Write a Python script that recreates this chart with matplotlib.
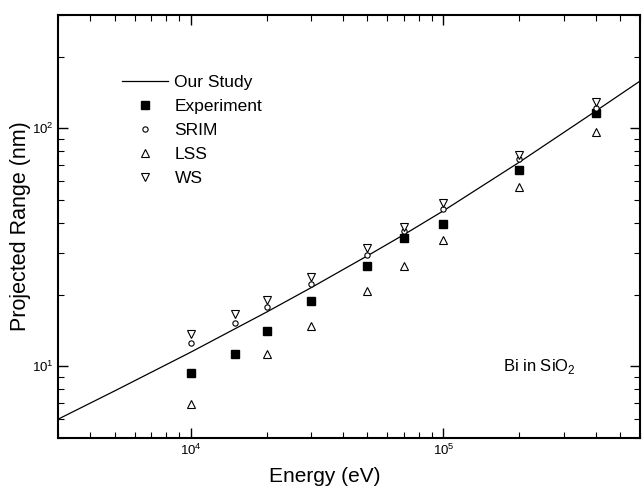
import matplotlib
matplotlib.use("Agg")
import matplotlib.pyplot as plt

plt.rcParams['font.family'] = ['Liberation Sans', 'DejaVu Sans']
plt.rcParams['mathtext.fontset'] = 'custom'
plt.rcParams['mathtext.rm'] = 'Liberation Sans'

# energies (eV)
energy = [10000, 15000, 20000, 30000, 50000, 70000, 100000, 200000, 400000]
energy_lss = [10000, 20000, 30000, 50000, 70000, 100000, 200000, 400000]

# projected range (nm)
experiment = [9.4, 11.3, 14.1, 18.8, 26.3, 34.7, 39.5, 66.7, 115.7]
srim = [12.5, 15.2, 17.7, 22.1, 29.4, 36.9, 45.7, 74.0, 122.2]
lss = [6.93, 11.3, 14.8, 20.7, 26.3, 34.0, 56.8, 96.8]
ws = [13.7, 16.6, 18.9, 23.7, 31.4, 38.5, 48.3, 77.2, 128.8]

# "our study" curve
study_e = [3000, 5000, 10000, 20000, 30000, 50000, 70000, 100000, 200000, 400000, 600000]
study_r = [6.0, 7.87, 11.45, 16.9, 21.4, 29.1, 35.8, 45.0, 72.1, 118, 158]

fig = plt.figure(figsize=(6.42, 4.92), dpi=100)
ax = fig.add_axes([0.091, 0.11, 0.906, 0.86])

ax.plot(study_e, study_r, color='black', lw=0.9, label='Our Study')
ax.plot(energy, experiment, ls='none', marker='s', ms=5.5, mfc='black', mec='black', label='Experiment')
ax.plot(energy, srim, ls='none', marker='o', ms=3.8, mfc='white', mec='black', mew=0.8, label='SRIM')
ax.plot(energy_lss, lss, ls='none', marker='^', ms=6, mfc='white', mec='black', mew=0.8, label='LSS')
ax.plot(energy, ws, ls='none', marker='v', ms=6, mfc='white', mec='black', mew=0.8, label='WS')

ax.set_xscale('log')
ax.set_yscale('log')
ax.set_xlim(3000, 600000)
ax.set_ylim(5, 300)

ax.set_xlabel('Energy (eV)', fontsize=15)
ax.set_ylabel('Projected Range (nm)', fontsize=15.5)
ax.xaxis.set_label_coords(0.458, -0.068)
ax.yaxis.set_label_coords(-0.048, 0.5)

ax.tick_params(which='both', direction='in', top=True, right=True, labelsize=9.5)
ax.tick_params(which='major', length=7, width=1)
ax.tick_params(which='minor', length=4, width=0.8)
for s in ax.spines.values():
    s.set_linewidth(1.5)

ax.text(0.765, 0.158, 'Bi in SiO$_2$', transform=ax.transAxes, fontsize=12)

leg = ax.legend(loc='upper left', bbox_to_anchor=(0.11, 0.857), frameon=False,
                fontsize=12.5, handlelength=2.6, handletextpad=0.4,
                labelspacing=0.5, borderaxespad=0, borderpad=0)

fig.savefig('out.png', dpi=100)
